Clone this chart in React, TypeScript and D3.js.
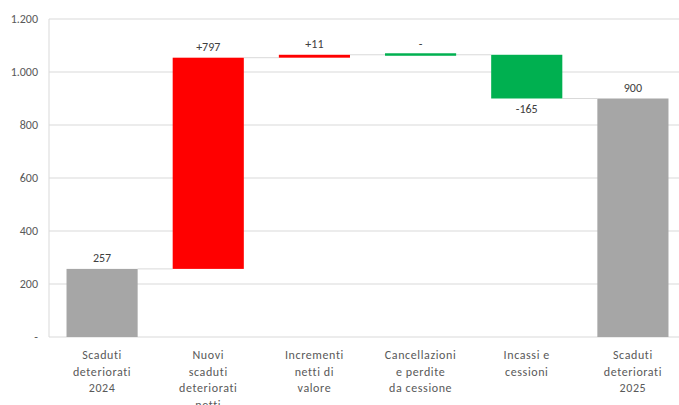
import React from "react";
import * as d3 from "d3";

const categories = [
  ["Scaduti", "deteriorati", "2024"],
  ["Nuovi", "scaduti", "deteriorati", "netti"],
  ["Incrementi", "netti di", "valore"],
  ["Cancellazioni", "e perdite", "da cessione"],
  ["Incassi e", "cessioni"],
  ["Scaduti", "deteriorati", "2025"],
];
const kinds = ["total", "delta", "delta", "delta", "delta", "total"];
const values = [257, 797, 11, 0, -165, 900];
const valueLabels = ["257", "+797", "+11", "-", "-165", "900"];
const yTicks = [0, 200, 400, 600, 800, 1000, 1200];

const W = 679;
const H = 405;
const left = 49;
const top = 19;
const bottom = 337;

export default function App() {
  const x = d3
    .scaleBand<number>()
    .domain(d3.range(categories.length))
    .range([left, 686])
    .paddingInner(0.33)
    .paddingOuter(0.165);
  const y = d3.scaleLinear().domain([0, 1200]).range([bottom, top]);
  const fmt = (v: number) =>
    v === 0 ? "-" : d3.format(",")(v).replace(/,/g, ".");

  let run = 0;
  const bars = values.map((v, i) => {
    let y0: number, y1: number;
    if (kinds[i] === "total") {
      y0 = 0;
      y1 = v;
      run = v;
    } else {
      y0 = run;
      y1 = run + v;
      run = y1;
    }
    return { i, v, lo: Math.min(y0, y1), hi: Math.max(y0, y1), end: y1 };
  });

  const color = (b: { i: number; v: number }) =>
    kinds[b.i] === "total" ? "#a6a6a6" : b.v > 0 ? "#ff0000" : "#00b050";

  const font = "Carlito, Calibri, 'Liberation Sans', Arial, sans-serif";

  return (
    <svg width={W} height={H} style={{ display: "block", position: "absolute", left: 0, top: 0 }}>
      <rect width={W} height={H} fill="#fff" />
      {yTicks.map((t) => (
        <g key={t}>
          <line x1={left} x2={W} y1={y(t)} y2={y(t)} stroke="#d9d9d9" strokeWidth={1} />
          <text x={38} y={y(t)} dy="0.35em" textAnchor="end" fontFamily={font} fontSize={12} fill="#595959">
            {fmt(t)}
          </text>
        </g>
      ))}
      <line x1={left} x2={left} y1={top} y2={bottom} stroke="#d9d9d9" />
      {bars.slice(0, -1).map((b, i) => {
        const nx = bars[i + 1];
        return (
          <line
            key={"c" + i}
            x1={x(i)! + x.bandwidth()}
            x2={x(i + 1)!}
            y1={y(b.end)}
            y2={y(b.end)}
            stroke="#d9d9d9"
            strokeWidth={1}
          />
        );
      })}
      {bars.map((b) => {
        const h = y(b.lo) - y(b.hi);
        return (
          <rect
            key={b.i}
            x={x(b.i)}
            width={x.bandwidth()}
            y={h < 2 ? y(b.hi) - 1.5 : y(b.hi)}
            height={Math.max(h, 2.5)}
            fill={color(b)}
          />
        );
      })}
      {bars.map((b) => {
        const below = kinds[b.i] === "delta" && b.v < 0;
        const cx = x(b.i)! + x.bandwidth() / 2;
        const ty = below ? y(b.lo) + 14 : y(b.hi) - 7;
        return (
          <text key={"l" + b.i} x={cx} y={ty} textAnchor="middle" fontFamily={font} fontSize={12} fill="#404040">
            {valueLabels[b.i]}
          </text>
        );
      })}
      {categories.map((lines, i) => (
        <text key={"x" + i} textAnchor="middle" fontFamily={font} fontSize={12} fill="#595959" letterSpacing={0.6}>
          {lines.map((ln, j) => (
            <tspan key={j} x={x(i)! + x.bandwidth() / 2} y={359 + j * 16.6}>
              {ln}
            </tspan>
          ))}
        </text>
      ))}
    </svg>
  );
}
